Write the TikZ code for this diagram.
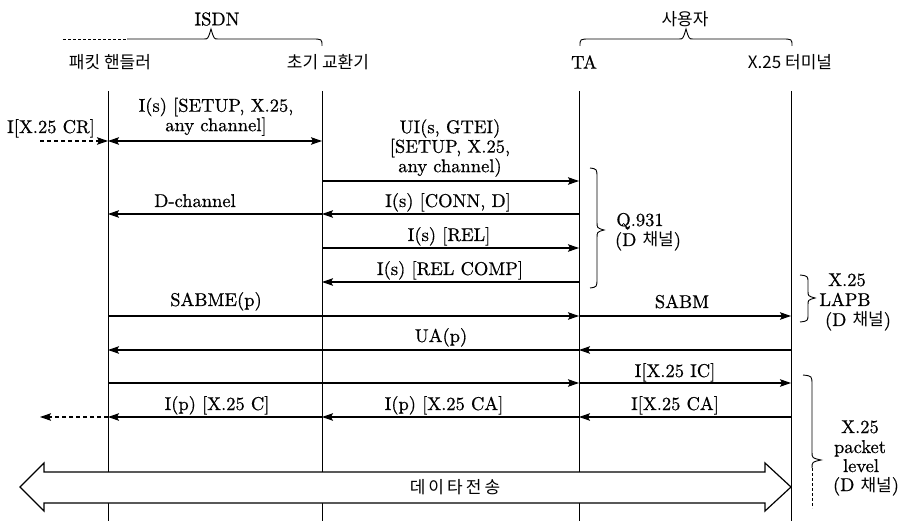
\documentclass[tikz,border=0pt]{standalone}
\usepackage{fontspec}
\setmainfont{lmroman10-regular}[Extension=.otf, FakeBold=0.6]
\newfontfamily\kr{Noto Sans CJK KR}
\newfontfamily\krs[LetterSpace=18]{Noto Sans CJK KR}
\usetikzlibrary{arrows.meta}
\begin{document}
\begin{tikzpicture}[x=1pt,y=-1pt,
  lbl/.style={font=\fontsize{18.5}{18.5}\selectfont, inner sep=0pt, anchor=base},
  mlbl/.style={font=\fontsize{18.5}{18}\selectfont, inner sep=0pt, align=center, anchor=south},
  krl/.style={font=\kr\fontsize{17}{17}\selectfont, inner sep=0pt},
  life/.style={line width=1pt},
  tip/.tip={Stealth[length=11pt,width=7.5pt,inset=2pt]},
  msg/.style={line width=1.1pt, -tip},
  msgb/.style={line width=1.1pt, tip-tip},
  dmsg/.style={line width=1.1pt, -tip, dash pattern=on 4pt off 3pt},
  brc/.style={line width=0.9pt},
]
\useasboundingbox (0,0) rectangle (905,521);

% group labels and braces
\node[lbl, anchor=center] (isdn) at (217,19) {ISDN};
\node[krl] (user) at (685,19) {사용자};
\draw[brc, dash pattern=on 3pt off 2pt] (63,39) -- (127,39);
\draw[brc] (127,39) -- (204,39) .. controls (208,39) .. (211,29) .. controls (214,39) .. (218,39) -- (312,39) .. controls (322,39) .. (322,46);
\draw[brc] (580,46) .. controls (580,39) .. (590,39) -- (679,39) .. controls (683,39) .. (686,29) .. controls (689,39) .. (693,39) -- (782,39) .. controls (792,39) .. (792,46);

% entity headers
\node[krl] (hP) at (110,62) {패킷 핸들러};
\node[krl] (hS) at (328,62) {초기 교환기};
\node[lbl, anchor=center] (hT) at (584,62) {TA};
\node[krl] (hX) at (790,62) {X.25 터미널};

% lifelines
\coordinate (Ptop) at (108,91); \coordinate (Pbot) at (108,521);
\coordinate (Stop) at (322,91); \coordinate (Sbot) at (322,521);
\coordinate (Ttop) at (579,91); \coordinate (Tbot) at (579,521);
\coordinate (Xtop) at (791,91); \coordinate (Xbot) at (791,521);
\draw[life] (Ptop) -- (Pbot);
\draw[life] (Stop) -- (Sbot);
\draw[life] (Ttop) -- (Tbot);
\draw[life] (Xtop) -- (Xbot);

% message rows
\foreach \r/\y in {1/141,2/181,3/214,4/248,5/282,6/316,7/350,8/383,9/417}{
  \coordinate (P\r) at (108,\y);
  \coordinate (S\r) at (322,\y);
  \coordinate (T\r) at (579,\y);
  \coordinate (X\r) at (791,\y);
}
\coordinate (Cin) at (40,141);
\coordinate (Cout) at (40,417);

% row 1
\node[mlbl] (m1) at (216,136) {I(s) [SETUP, X.25,\\any channel]};
\node[lbl] (m1b) at (51,133) {I[X.25 CR]};
\draw[msgb] (P1) -- (S1);
\draw[dmsg] (Cin) -- (P1);
% row 2
\node[mlbl] (m2) at (450,177) {UI(s, GTEI)\\{}[SETUP, X.25,\\any channel)};
\draw[msg] (S2) -- (T2);
% row 3
\node[lbl] (m3a) at (195,207) {D-channel};
\node[lbl] (m3b) at (448,207) {I(s) [CONN, D]};
\draw[msg] (S3) -- (P3);
\draw[msg] (T3) -- (S3);
% row 4
\node[lbl] (m4) at (449,241) {I(s) [REL]};
\draw[msg] (S4) -- (T4);
% row 5
\node[lbl] (m5) at (450,275) {I(s) [REL COMP]};
\draw[msg] (T5) -- (S5);
% row 6
\node[lbl] (m6a) at (216,306) {SABME(p)};
\node[lbl] (m6b) at (682,308) {SABM};
\draw[msg] (P6) -- (T6);
\draw[msg] (T6) -- (X6);
% row 7
\node[lbl] (m7) at (441,342) {UA(p)};
\draw[msg] (X7) -- (T7);
\draw[msg] (T7) -- (P7);
% row 8
\node[lbl] (m8a) at (675,377) {I[X.25 IC]};
\draw[msg] (P8) -- (T8);
\draw[msg] (T8) -- (X8);
% row 9
\node[lbl] (m9a) at (217,410) {I(p) [X.25 C]};
\node[lbl] (m9b) at (444,410) {I(p) [X.25 CA]};
\node[lbl] (m9c) at (675,410) {I[X.25 CA]};
\draw[msg] (S9) -- (P9);
\draw[msg] (T9) -- (S9);
\draw[msg] (X9) -- (T9);
\draw[dmsg] (P9) -- (Cout);

% protocol braces
\draw[brc] (590,168) .. controls (597,169) .. (597,178) -- (597,222) .. controls (597,228) .. (604,230) .. controls (597,232) .. (597,238) -- (597,278) .. controls (597,287) .. (590,288);
\node[lbl] (q1) at (640,226) {Q.931};
\node[lbl] (q2) at (648,246) {(D {\kr\fontsize{17}{17}\selectfont 채널})};

\draw[brc] (800,275) .. controls (808,276) .. (808,283) -- (808,291) .. controls (808,296) .. (815,298) .. controls (808,300) .. (808,305) -- (808,314) .. controls (808,321) .. (800,322);
\node[lbl] (l1) at (847,286) {X.25};
\node[lbl] (l2) at (845,306) {LAPB};
\node[lbl] (l3) at (858,326) {(D {\kr\fontsize{17}{17}\selectfont 채널})};

\draw[brc] (803,375) .. controls (812,376) .. (812,385) -- (812,452) .. controls (812,458) .. (821,460) .. controls (812,462) .. (812,468);
\draw[brc, dash pattern=on 3pt off 2pt] (812,468) -- (812,508);
\node[lbl] (k1) at (860,433) {X.25};
\node[lbl] (k2) at (860,453) {packet};
\node[lbl] (k3) at (861,472) {level};
\node[lbl] (k4) at (866,491) {(D {\kr\fontsize{17}{17}\selectfont 채널})};

% data transfer double arrow
\draw[line width=1.2pt, fill=white] (20,487) -- (44,463) -- (44,472) -- (765,472) -- (765,463) -- (791,487) -- (765,511) -- (765,503) -- (44,503) -- (44,511) -- cycle;
\node[font=\krs\fontsize{17}{17}\selectfont, inner sep=0pt] (dt) at (455,487) {데이타전송};
\end{tikzpicture}
\end{document}
